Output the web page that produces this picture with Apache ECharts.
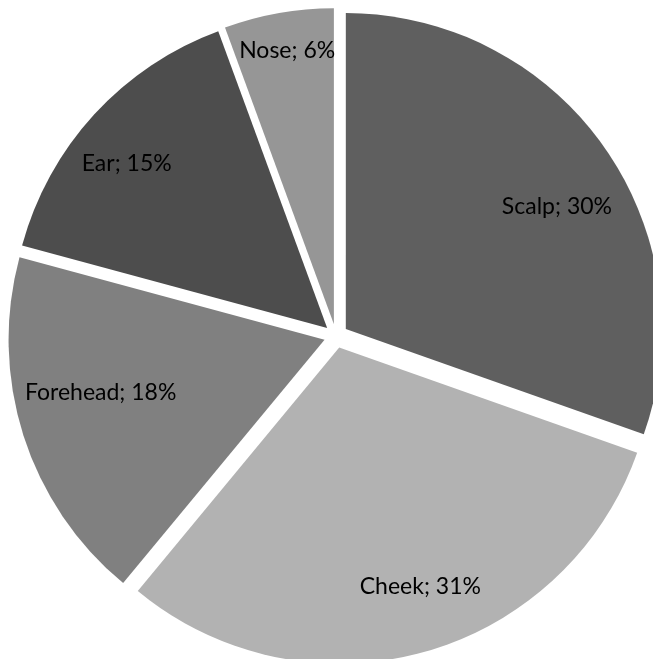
<!DOCTYPE html>
<html><head><meta charset="utf-8">
<script src="https://cdn.jsdelivr.net/npm/echarts@6/dist/echarts.min.js"></script>
<style>html,body{margin:0;padding:0;background:#fff}#c{width:653px;height:659px}</style>
</head><body><div id="c"></div>
<script>
const categories = ['Scalp', 'Cheek', 'Forehead', 'Ear', 'Nose'];
const values = [30.4, 30.6, 18.2, 15.2, 5.6];
const colors = ['#5f5f5f', '#b2b2b2', '#808080', '#4d4d4d', '#969696'];
// label placement styling (Excel "best fit" look): radius from slice tip and angular nudge
const labelRadius = [244, 252, 230, 259, 278];
const labelAngleShift = [5.2, -3.3, 4.4, -3.2, 0.4];

const chart = echarts.init(document.getElementById('c'), null, {renderer: 'canvas'});
const center = [336, 336];
const R = 316;
const explode = 12;
const total = values.reduce((a, b) => a + b, 0);
const midAngles = [];
let acc = 0;
values.forEach(v => { midAngles.push((acc + v / 2) / total * 360); acc += v; });
const rad = d => d * Math.PI / 180;

const mainData = categories.map((n, i) => ({name: n, value: values[i], selected: true, itemStyle: {color: colors[i]}}));
chart.setOption({
  animation: false,
  series: [
    {
      type: 'pie', center: center, radius: [0, R], startAngle: 90, clockwise: true,
      selectedMode: 'multiple', selectedOffset: explode,
      label: {show: false}, labelLine: {show: false},
      itemStyle: {borderWidth: 0},
      emphasis: {disabled: true},
      data: mainData
    },
    {
      type: 'custom', coordinateSystem: 'none', silent: true, z: 10,
      data: categories.map((n, i) => ({name: n, value: values[i]})),
      renderItem: function (params, api) {
        const i = params.dataIndex;
        const v = api.value(0);
        const m = rad(midAngles[i]);
        const a = rad(midAngles[i] + labelAngleShift[i]);
        const ox = center[0] + explode * Math.sin(m);
        const oy = center[1] - explode * Math.cos(m);
        return {
          type: 'text',
          x: ox + labelRadius[i] * Math.sin(a),
          y: oy - labelRadius[i] * Math.cos(a),
          style: {
            text: categories[i] + '; ' + Math.round(v / total * 100) + '%',
            font: '23px Lato', fill: '#000',
            align: 'center', verticalAlign: 'middle'
          }
        };
      }
    }
  ]
});
</script></body></html>
